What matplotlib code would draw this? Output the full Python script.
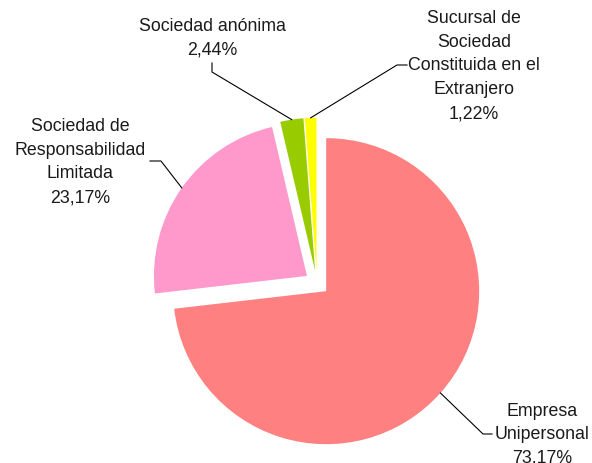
import matplotlib.pyplot as plt
import numpy as np

# data
categories = [
    "Empresa\nUnipersonal",
    "Sociedad de\nResponsabilidad\nLimitada",
    "Sociedad anónima",
    "Sucursal de\nSociedad\nConstituida en el\nExtranjero",
]
shares = [73.17, 23.17, 2.44, 1.22]
pct_text = ["73.17%", "23,17%", "2,44%", "1,22%"]
colors = ["#FF8080", "#FF99CC", "#99CC00", "#FFFF00"]

W, H = 592, 464
R = 153

# label layout in pixel coords (y measured from top)
label_pos = [(542, 435), (80, 162), (212, 38), (474, 66)]
elbows = [
    [(483, 435), (492, 435)],
    [(161, 162), (150, 162)],
    [(212, 73), (212, 64)],
    [(397, 66), (407, 66)],
]

fig = plt.figure(figsize=(W / 100, H / 100), dpi=100)
ax = fig.add_axes([0, 0, 1, 1])

# explode is an absolute offset in data units here (pixels)
wedges, _ = ax.pie(
    shares,
    colors=colors,
    startangle=90,
    counterclock=False,
    explode=[12.3] * len(shares),
    radius=R,
    center=(317, H - 284),
    wedgeprops=dict(linewidth=0),
    frame=True,
)
ax.set_xlim(0, W)
ax.set_ylim(0, H)
ax.axis("off")

for w, cat, pct, (lx, ly), elb in zip(wedges, categories, pct_text, label_pos, elbows):
    mid = np.deg2rad((w.theta1 + w.theta2) / 2)
    cx, cy = w.center
    px = cx + w.r * np.cos(mid)
    py = cy + w.r * np.sin(mid)
    xs = [px] + [e[0] for e in elb]
    ys = [py] + [H - e[1] for e in elb]
    ax.plot(xs, ys, color="black", lw=0.8)
    ax.text(lx, H - ly, f"{cat}\n{pct}", ha="center", va="center",
            multialignment="center", fontsize=12.8, family="Liberation Sans",
            linespacing=1.52, color="#1a1a1a")

fig.savefig("out.png", dpi=100)
